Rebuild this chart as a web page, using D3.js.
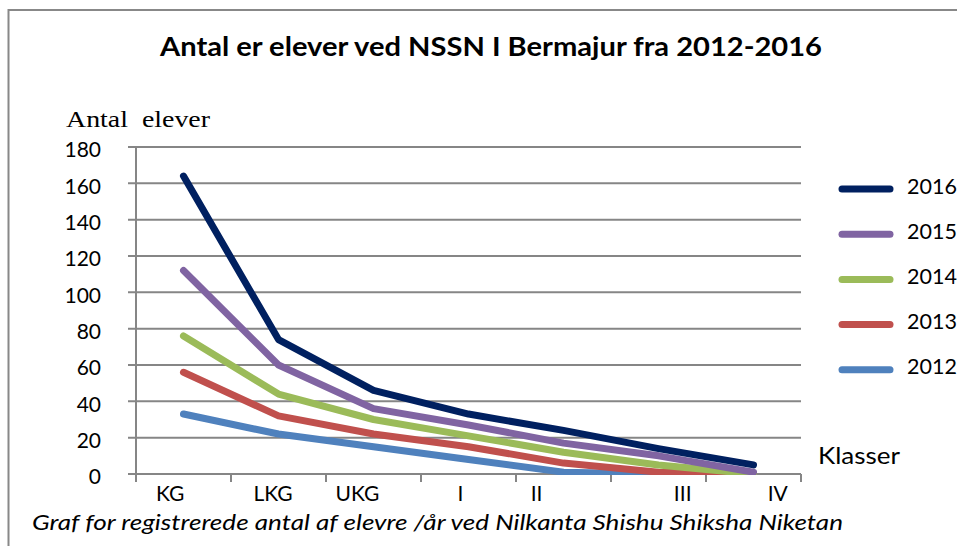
<!DOCTYPE html>
<html>
<head>
<meta charset="utf-8">
<script src="https://cdn.jsdelivr.net/npm/d3@7"></script>
<style>
  body { margin: 0; background: #fff; }
  svg text { font-family: Lato, "Open Sans", sans-serif; fill: #000; white-space: pre; }
</style>
</head>
<body>
<div id="chart"></div>
<script>
// class names as typed in the sheet (padding spaces kept, they shift the labels)
const klasser = ["KG     ", "LKG  ", "UKG      ", "I   ", "II          ", "         III", "         IV"]
const years = ["2016", "2015", "2014", "2013", "2012"]
const elever2016 = [164, 74, 46, 33, 24, 14, 5]
const elever2015 = [112, 60, 36, 27, 17, 10, 1]
const elever2014 = [76, 44, 30, 21, 12, 5, 0]
const elever2013 = [56, 32, 22, 15, 6, 1, 0]
const elever2012 = [33, 22, 15, 8, 1, 0, 0]
const yTicks = [0, 20, 40, 60, 80, 100, 120, 140, 160, 180]

const width = 958, height = 546

const series = [
    {name: "2016", values: elever2016, color: "#002060"},
    {name: "2015", values: elever2015, color: "#8064A2"},
    {name: "2014", values: elever2014, color: "#9BBB59"},
    {name: "2013", values: elever2013, color: "#C0504D"},
    {name: "2012", values: elever2012, color: "#4F81BD"}
]

const svg = d3.select("#chart")
    .append("svg")
    .attr("width", width)
    .attr("height", height)

// outer chart frame (cut at right / bottom)
svg.append("path")
    .attr("d", "M8.5,546 V10 H957")
    .attr("fill", "none")
    .attr("stroke", "#888")
    .attr("stroke-width", 2)

const x = d3.scaleBand()
    .domain(d3.range(klasser.length))
    .range([136, 801])

const y = d3.scaleLinear()
    .domain([0, 180])
    .range([474, 147])

// gridlines + y ticks
svg.append("g")
    .selectAll("line")
    .data(yTicks)
    .enter()
    .append("line")
    .attr("x1", 128)
    .attr("x2", 801)
    .attr("y1", d => y(d))
    .attr("y2", d => y(d))
    .attr("stroke", "#868686")
    .attr("stroke-width", 2)

svg.append("g")
    .selectAll("text")
    .data(yTicks)
    .enter()
    .append("text")
    .attr("x", 101)
    .attr("y", d => y(d) + 3)
    .attr("dy", "0.35em")
    .attr("text-anchor", "end")
    .attr("font-size", 21)
    .text(d => d)

// y axis line
svg.append("line")
    .attr("x1", 136).attr("x2", 136)
    .attr("y1", y(180)).attr("y2", y(0) + 8)
    .attr("stroke", "#868686")
    .attr("stroke-width", 2)

// x axis ticks at band edges
const edges = d3.range(klasser.length + 1).map(i => 136 + i * x.bandwidth())
svg.append("g")
    .selectAll("line")
    .data(edges)
    .enter()
    .append("line")
    .attr("x1", d => d).attr("x2", d => d)
    .attr("y1", y(0)).attr("y2", y(0) + 8)
    .attr("stroke", "#868686")
    .attr("stroke-width", 2)

svg.append("g")
    .selectAll("text")
    .data(klasser)
    .enter()
    .append("text")
    .attr("x", (d, i) => x(i) + x.bandwidth() / 2)
    .attr("y", 501)
    .attr("text-anchor", "middle")
    .attr("font-size", 21)
    .text(d => d)

// lines, clipped at the plot area
svg.append("clipPath")
    .attr("id", "plot-clip")
    .append("rect")
    .attr("x", 100).attr("y", 100)
    .attr("width", 760).attr("height", y(0) + 1 - 100)

const line = d3.line()
    .x((d, i) => x(i) + x.bandwidth() / 2)
    .y(d => y(d))

svg.append("g")
    .attr("clip-path", "url(#plot-clip)")
    .selectAll("path")
    .data(series.slice().reverse()) // 2012 at the bottom
    .enter()
    .append("path")
    .attr("d", d => line(d.values))
    .attr("fill", "none")
    .attr("stroke", d => d.color)
    .attr("stroke-width", 7)
    .attr("stroke-linejoin", "round")
    .attr("stroke-linecap", "round")

// legend
const legend = svg.append("g")
    .selectAll("g")
    .data(series)
    .enter()
    .append("g")
    .attr("transform", (d, i) => "translate(0," + (189 + i * 45.2) + ")")

legend.append("line")
    .attr("x1", 842).attr("x2", 890)
    .attr("stroke", d => d.color)
    .attr("stroke-width", 7)
    .attr("stroke-linecap", "round")

legend.append("text")
    .attr("x", 907)
    .attr("y", -3)
    .attr("dy", "0.35em")
    .attr("font-size", 21.5)
    .text(d => d.name)

// titles
svg.append("text")
    .attr("x", 491)
    .attr("y", 56)
    .attr("text-anchor", "middle")
    .attr("font-size", 27)
    .attr("font-weight", "bold")
    .attr("textLength", 662)
    .attr("lengthAdjust", "spacingAndGlyphs")
    .text("Antal er elever ved NSSN I Bermajur fra 2012-2016")

svg.append("text")
    .attr("x", 66)
    .attr("y", 127)
    .attr("font-family", "'Liberation Serif', 'DejaVu Serif', serif")
    .style("font-family", "'Liberation Serif', serif")
    .attr("font-size", 23)
    .attr("textLength", 144)
    .attr("lengthAdjust", "spacingAndGlyphs")
    .text("Antal  elever")

svg.append("text")
    .attr("x", 818)
    .attr("y", 464)
    .attr("font-size", 24)
    .attr("textLength", 82)
    .attr("lengthAdjust", "spacingAndGlyphs")
    .text("Klasser")

svg.append("text")
    .attr("x", 32)
    .attr("y", 530)
    .attr("font-size", 22)
    .attr("font-style", "italic")
    .attr("textLength", 811)
    .attr("lengthAdjust", "spacingAndGlyphs")
    .text("Graf for registrerede antal af elevre /år ved Nilkanta Shishu Shiksha Niketan")
</script>
</body>
</html>
